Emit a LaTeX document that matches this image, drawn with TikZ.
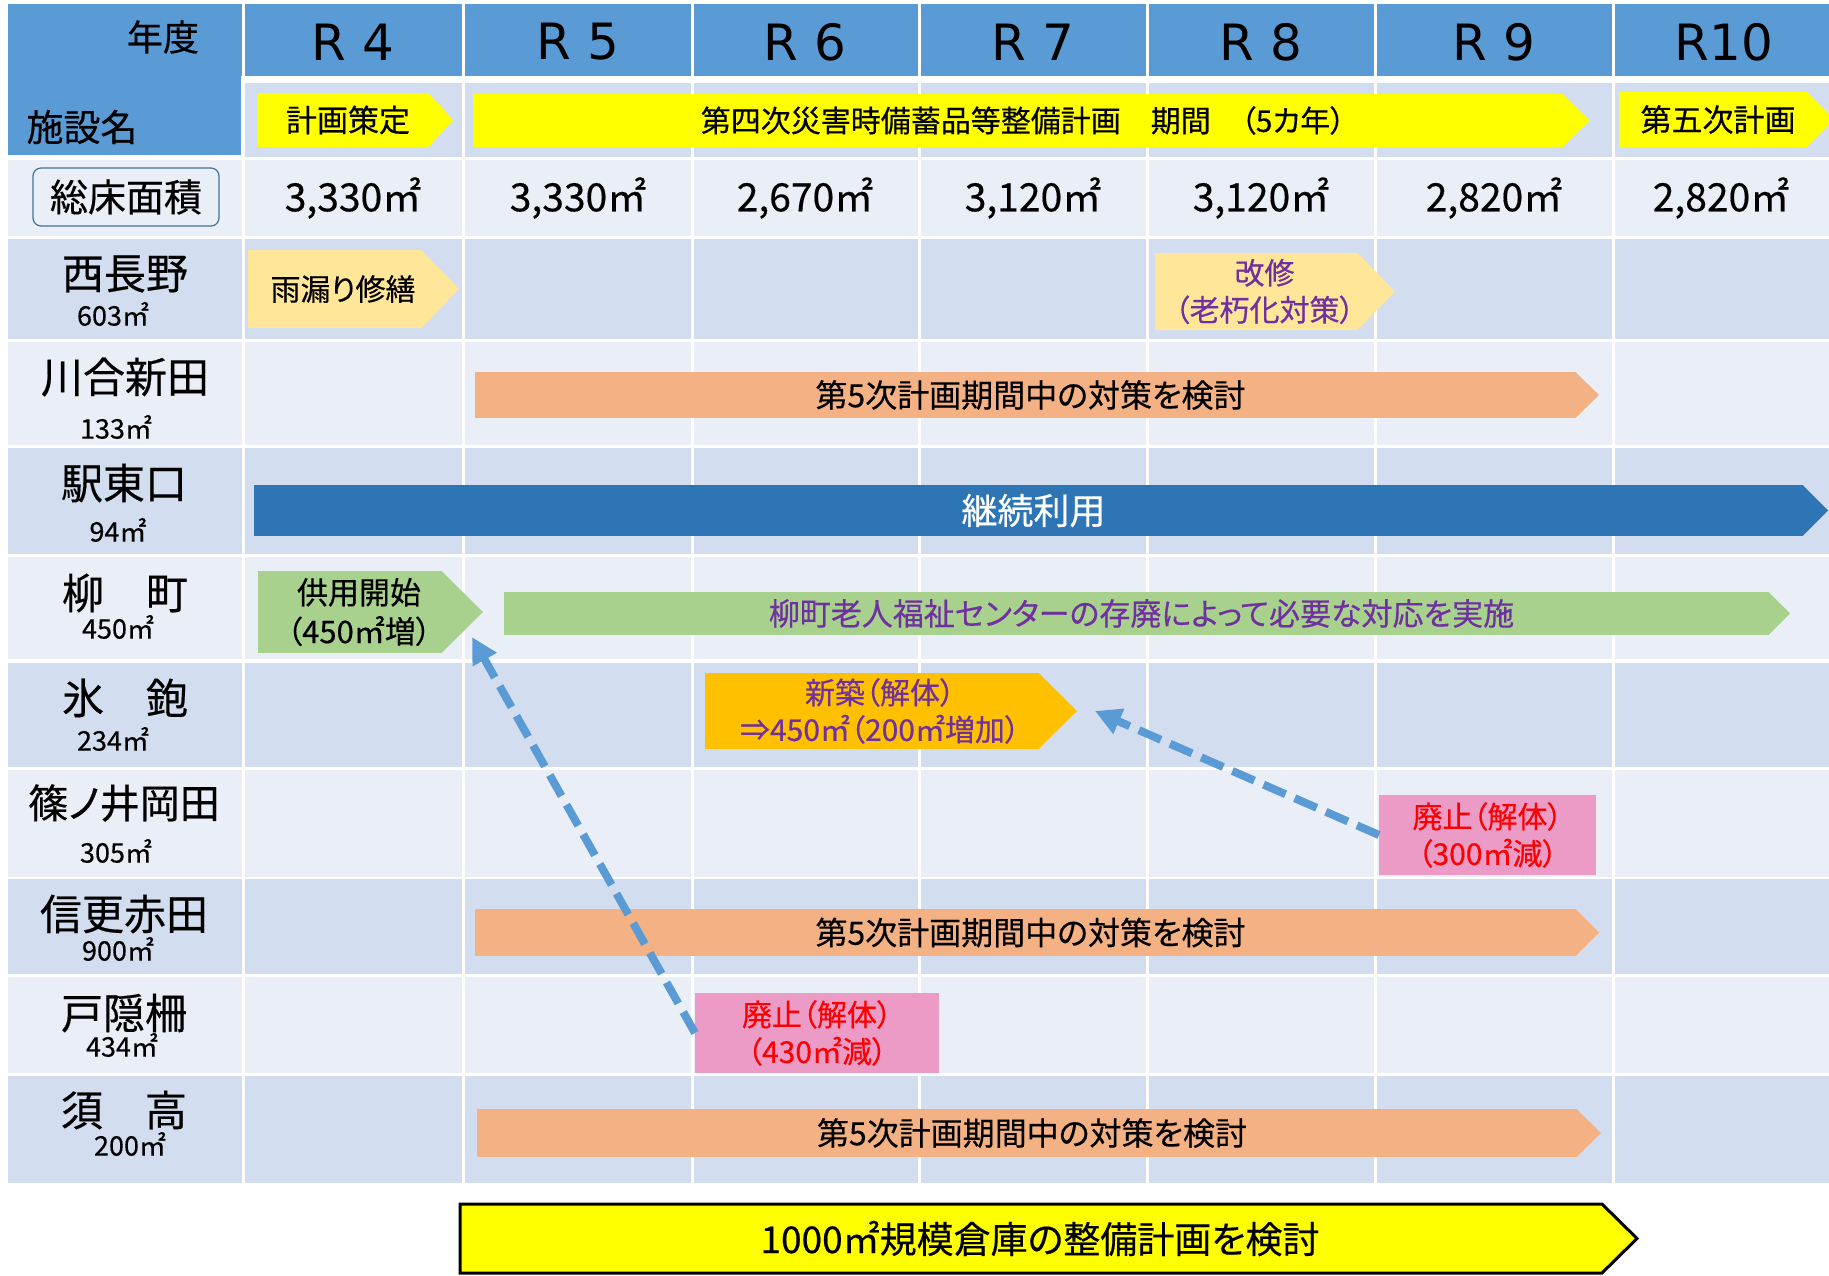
\documentclass[tikz,border=0pt]{standalone}
\usepackage{fontspec}
\setmainfont{Noto Sans CJK JP}[RawFeature=+palt, FakeBold=0.4]
\newfontfamily\plainjp{Noto Sans CJK JP}[FakeBold=0.4]
\newfontfamily\yrfont{DejaVu Sans}
\usetikzlibrary{arrows.meta}
\definecolor{cHead}{HTML}{5B9BD5}
\definecolor{cDark}{HTML}{D2DEEF}
\definecolor{cLight}{HTML}{EAEFF7}
\definecolor{cYel}{HTML}{FFFF00}
\definecolor{cPeach}{HTML}{FFE699}
\definecolor{cOrg}{HTML}{F4B183}
\definecolor{cBlue}{HTML}{2E75B6}
\definecolor{cGreen}{HTML}{A9D18E}
\definecolor{cAmber}{HTML}{FFC000}
\definecolor{cPink}{HTML}{EC9AC6}
\definecolor{cPurple}{HTML}{7030A0}
\definecolor{cArrow}{HTML}{5B9BD5}
\definecolor{cBorder}{HTML}{41719C}
\newcommand\fs[2]{\fontsize{#1}{#2}\selectfont}
\begin{document}
\begin{tikzpicture}[x=1pt,y=-1pt,
  shp/.style={inner sep=0pt, outer sep=0pt, align=center, anchor=center},
  yr/.style={shp, font=\yrfont\fs{50}{54}},
  val/.style={shp, font=\plainjp\fs{39}{42}},
  fname/.style={shp, font=\plainjp\fs{42}{46}},
  farea/.style={shp, font=\plainjp\fs{27}{30}},
  gridline/.style={white, line width=3pt},
  dasharrow/.style={cArrow, line width=8pt, dash pattern=on 24pt off 10pt, -{Triangle[length=26pt,width=26pt]}}
]
\useasboundingbox (0,0) rectangle (1829,1275);
\fill[white] (0,0) rectangle (1829,1275);
% ---------- table bands ----------
\fill[cHead] (8,4) rectangle (1829,76);
\fill[cHead] (8,4) rectangle (241,155);
\fill[cDark] (245,83) rectangle (1829,157);
\fill[cLight] (8,160) rectangle (1829,236);
\fill[cDark]  (8,239) rectangle (1829,339);
\fill[cLight] (8,342) rectangle (1829,445);
\fill[cDark]  (8,448) rectangle (1829,554);
\fill[cLight] (8,557) rectangle (1829,659);
\fill[cDark]  (8,663) rectangle (1829,767);
\fill[cLight] (8,770) rectangle (1829,877);
\fill[cDark]  (8,879) rectangle (1829,974);
\fill[cLight] (8,977) rectangle (1829,1073);
\fill[cDark]  (8,1076) rectangle (1829,1183);
\foreach \gx in {243,463.5,692,919,1147,1375,1613}
  \draw[gridline] (\gx,4) -- (\gx,1183);
% ---------- header texts ----------
\node[shp, font=\fs{36}{40}] (nendo) at (163,37) {年度};
\node[shp, font=\fs{37}{40}] (shisetsu) at (82,127) {施設名};
\node[yr] (hR4) at (353,42) {R 4};
\node[yr] (hR5) at (578,42) {R 5};
\node[yr] (hR6) at (805,42) {R 6};
\node[yr] (hR7) at (1033,42) {R 7};
\node[yr] (hR8) at (1261,42) {R 8};
\node[yr] (hR9) at (1494,42) {R 9};
\node[yr] (hR10) at (1724,42) {R10};
% ---------- plan row ----------
\node[shp, fill=cYel, minimum width=172pt, minimum height=54pt, font=\fs{31}{34}] (keikaku) at (343,120) {\hspace*{10pt}計画策定};
\fill[cYel] ([xshift=-0.5pt]keikaku.north east) -- ([xshift=24pt]keikaku.east) -- ([xshift=-0.5pt]keikaku.south east) -- cycle;
\node[shp, fill=cYel, minimum width=1090pt, minimum height=53pt, font=\fs{30}{33}] (daiyoji) at (1018,120.5) {\hspace*{10pt}第四次災害時備蓄品等整備計画　期間　（5カ年）};
\fill[cYel] ([xshift=-0.5pt]daiyoji.north east) -- ([xshift=27pt]daiyoji.east) -- ([xshift=-0.5pt]daiyoji.south east) -- cycle;
\node[shp, fill=cYel, minimum width=188pt, minimum height=55pt, font=\fs{31}{34}] (daigoji) at (1713,119.5) {\hspace*{10pt}第五次計画};
\fill[cYel] ([xshift=-0.5pt]daigoji.north east) -- ([xshift=27pt]daigoji.east) -- ([xshift=-0.5pt]daigoji.south east) -- cycle;
% ---------- total floor area row ----------
\node[shp, draw=cBorder, line width=1.2pt, rounded corners=8pt, fill=cLight, minimum width=186pt, minimum height=58pt, font=\plainjp\fs{38}{40}] (sokuyuka) at (126,197) {総床面積};
\node[val] (vR4) at (353,198) {3,330㎡};
\node[val] (vR5) at (578,198) {3,330㎡};
\node[val] (vR6) at (805,198) {2,670㎡};
\node[val] (vR7) at (1033,198) {3,120㎡};
\node[val] (vR8) at (1261,198) {3,120㎡};
\node[val] (vR9) at (1494,198) {2,820㎡};
\node[val] (vR10) at (1721,198) {2,820㎡};
% ---------- facility names ----------
\node[fname] (n1) at (125,274) {西長野};
\node[farea] (a1) at (113,314) {603㎡};
\node[fname] (n2) at (125,377) {川合新田};
\node[farea] (a2) at (116,427) {133㎡};
\node[fname] (n3) at (124,483) {駅東口};
\node[farea] (a3) at (118,530) {94㎡};
\node[fname] (n4) at (125,593) {柳　町};
\node[farea] (a4) at (118,627) {450㎡};
\node[fname] (n5) at (125,698) {氷　鉋};
\node[farea] (a5) at (113,739) {234㎡};
\node[shp, font=\fs{40}{44}] (n6) at (124,803) {篠ノ井岡田};
\node[farea] (a6) at (116,851) {305㎡};
\node[fname] (n7) at (124,914) {信更赤田};
\node[farea] (a7) at (118,949) {900㎡};
\node[fname] (n8) at (124,1013) {戸隠柵};
\node[farea] (a8) at (122,1045) {434㎡};
\node[fname] (n9) at (124,1110) {須　高};
\node[farea] (a9) at (130,1144) {200㎡};
% ---------- 西長野 ----------
\node[shp, fill=cPeach, minimum width=174pt, minimum height=78pt, font=\fs{30}{34}] (amamori) at (335,289) {\hspace*{16pt}雨漏り修繕};
\fill[cPeach] ([xshift=-0.5pt]amamori.north east) -- ([xshift=37pt]amamori.east) -- ([xshift=-0.5pt]amamori.south east) -- cycle;
\node[shp, fill=cPeach, minimum width=203pt, minimum height=77pt, font=\fs{30}{37}, text=cPurple] (kaishu) at (1256.5,291.5) {\hspace*{16pt}改修\\\hspace*{16pt}（老朽化対策）};
\fill[cPeach] ([xshift=-0.5pt]kaishu.north east) -- ([xshift=37pt]kaishu.east) -- ([xshift=-0.5pt]kaishu.south east) -- cycle;
% ---------- 第5次 bars ----------
\node[shp, fill=cOrg, minimum width=1101pt, minimum height=46pt, font=\fs{32}{34}] (kawai) at (1025.5,395) {\hspace*{10pt}第5次計画期間中の対策を検討};
\fill[cOrg] ([xshift=-0.5pt]kawai.north east) -- ([xshift=23pt]kawai.east) -- ([xshift=-0.5pt]kawai.south east) -- cycle;
\node[shp, fill=cOrg, minimum width=1101pt, minimum height=47pt, font=\fs{32}{34}] (shinko) at (1025.5,932.5) {\hspace*{10pt}第5次計画期間中の対策を検討};
\fill[cOrg] ([xshift=-0.5pt]shinko.north east) -- ([xshift=23pt]shinko.east) -- ([xshift=-0.5pt]shinko.south east) -- cycle;
\node[shp, fill=cOrg, minimum width=1100pt, minimum height=48pt, font=\fs{32}{34}] (suko) at (1027,1133) {\hspace*{10pt}第5次計画期間中の対策を検討};
\fill[cOrg] ([xshift=-0.5pt]suko.north east) -- ([xshift=24pt]suko.east) -- ([xshift=-0.5pt]suko.south east) -- cycle;
% ---------- 駅東口 ----------
\node[shp, fill=cBlue, minimum width=1549pt, minimum height=51pt, font=\fs{36}{38}, text=white] (keizoku) at (1028.5,510.5) {\hspace*{10pt}継続利用};
\fill[cBlue] ([xshift=-0.5pt]keizoku.north east) -- ([xshift=25pt]keizoku.east) -- ([xshift=-0.5pt]keizoku.south east) -- cycle;
% ---------- 柳町 ----------
\node[shp, fill=cGreen, minimum width=184pt, minimum height=82pt, font=\fs{31}{39}] (kyoyo) at (350,612) {\hspace*{18pt}供用開始\\\hspace*{18pt}（450㎡増）};
\fill[cGreen] ([xshift=-0.5pt]kyoyo.north east) -- ([xshift=41pt]kyoyo.east) -- ([xshift=-0.5pt]kyoyo.south east) -- cycle;
\node[shp, fill=cGreen, minimum width=1265pt, minimum height=43pt, font=\fs{31}{33}, text=cPurple] (yanagi) at (1136.5,613.5) {\hspace*{10pt}柳町老人福祉センターの存廃によって必要な対応を実施};
\fill[cGreen] ([xshift=-0.5pt]yanagi.north east) -- ([xshift=21pt]yanagi.east) -- ([xshift=-0.5pt]yanagi.south east) -- cycle;
% ---------- 氷鉋 ----------
\node[shp, fill=cAmber, minimum width=334pt, minimum height=76pt, font=\fs{30}{37}, text=cPurple] (shinchiku) at (872,711) {\hspace*{16pt}新築（解体）\\\hspace*{16pt}⇒450㎡（200㎡増加）};
\fill[cAmber] ([xshift=-0.5pt]shinchiku.north east) -- ([xshift=38pt]shinchiku.east) -- ([xshift=-0.5pt]shinchiku.south east) -- cycle;
% ---------- 廃止 boxes ----------
\node[shp, fill=cPink, minimum width=217pt, minimum height=80pt, font=\fs{30}{37}, text=red] (haishiA) at (1487.5,835) {廃止（解体）\\（300㎡減）};
\node[shp, fill=cPink, minimum width=244pt, minimum height=80pt, font=\fs{30}{37}, text=red] (haishiB) at (817,1033) {廃止（解体）\\（430㎡減）};
% ---------- bottom arrow ----------
\node[shp, fill=cYel, minimum width=1142pt, minimum height=69pt, font=\fs{37}{40}] (kento) at (1031,1238.5) {\hspace*{18pt}1000㎡規模倉庫の整備計画を検討};
\fill[cYel] ([xshift=-0.5pt]kento.north east) -- ([xshift=35pt]kento.east) -- ([xshift=-0.5pt]kento.south east) -- cycle;
\draw[black, line width=3pt, line join=miter] (kento.north west) -- (kento.north east) -- ([xshift=35pt]kento.east) -- (kento.south east) -- (kento.south west) -- cycle;
% ---------- dashed arrows ----------
\coordinate (tA) at ([xshift=30pt,yshift=16pt]kyoyo.south east);
\coordinate (tB) at ([xshift=56pt]shinchiku.east);
\draw[dasharrow] (haishiB.west) -- (tA);
\draw[dasharrow] (haishiA.west) -- (tB);
\end{tikzpicture}
\end{document}
